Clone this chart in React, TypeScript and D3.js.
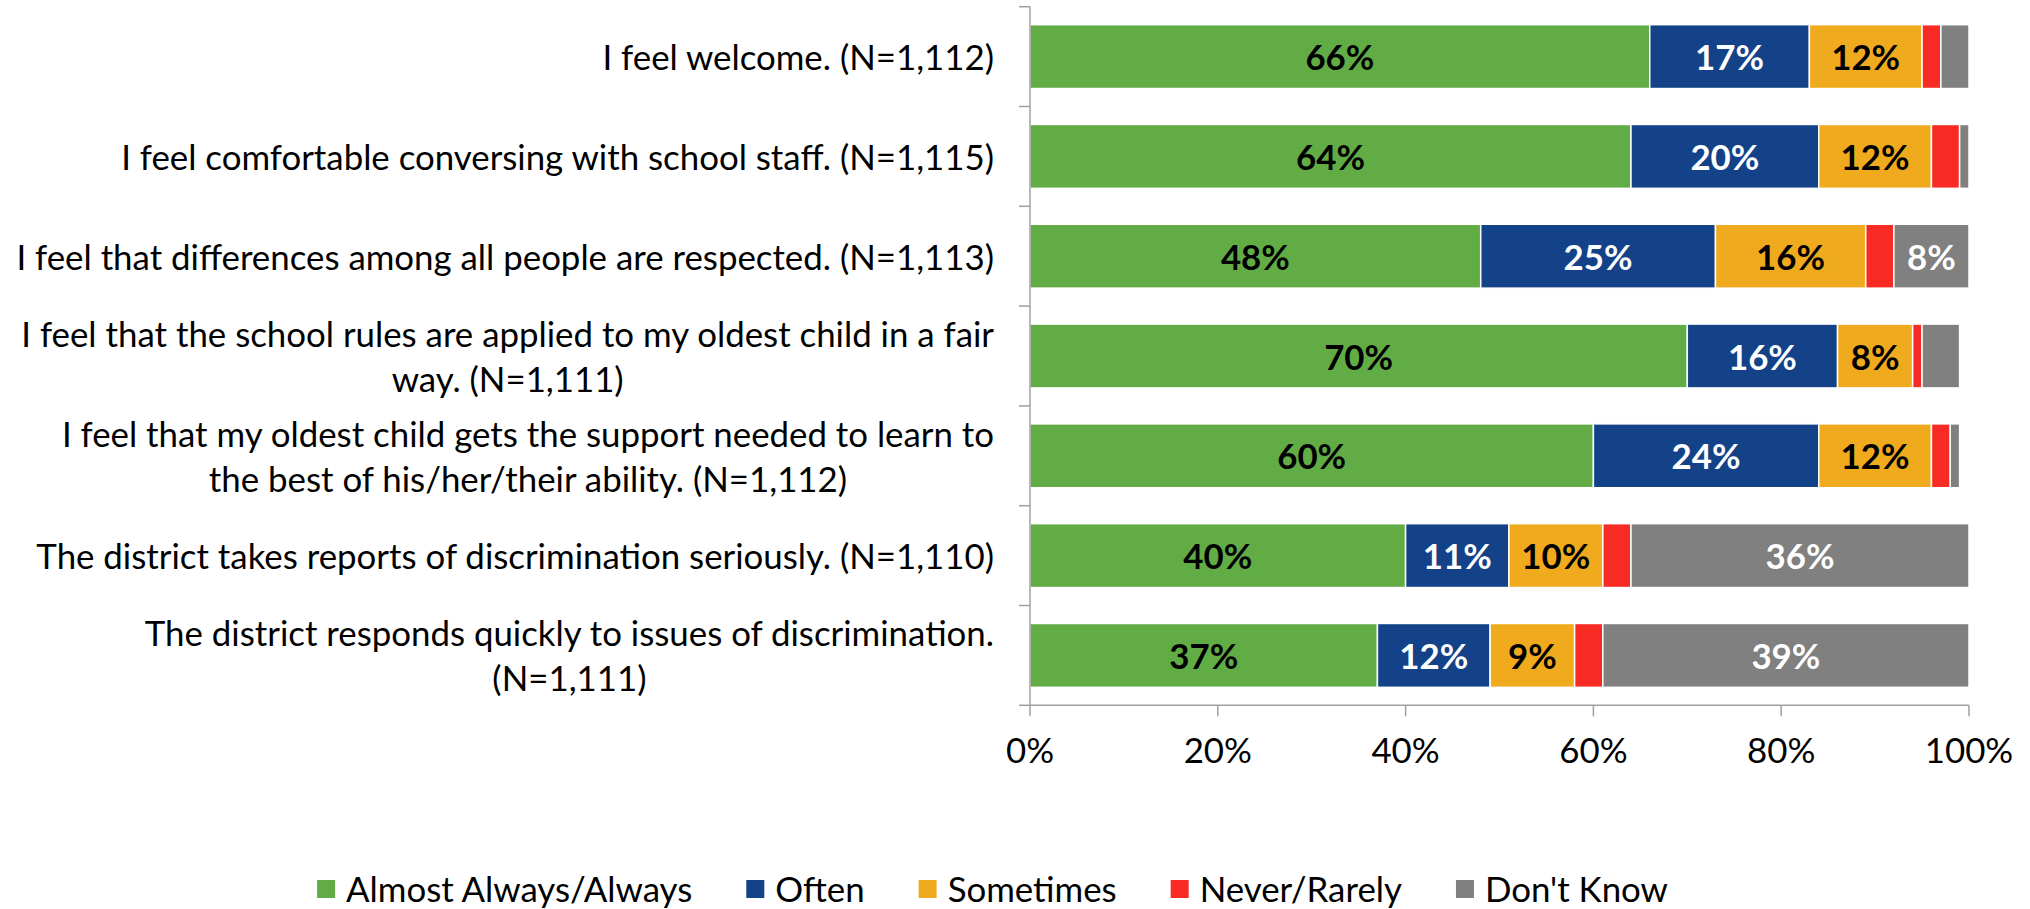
import React, { useEffect, useRef } from "react";
import * as d3 from "d3";

const categoryLines: string[][] = [
  ["I feel welcome. (N=1,112)"],
  ["I feel comfortable conversing with school staff. (N=1,115)"],
  ["I feel that differences among all people are respected. (N=1,113)"],
  ["I feel that the school rules are applied to my oldest child in a fair", "way. (N=1,111)"],
  ["I feel that my oldest child gets the support needed to learn to", "the best of his/her/their ability. (N=1,112)"],
  ["The district takes reports of discrimination seriously. (N=1,110)"],
  ["The district responds quickly to issues of discrimination.", "(N=1,111)"],
];

const seriesNames = ["Almost Always/Always", "Often", "Sometimes", "Never/Rarely", "Don't Know"];
const almostAlways = [66, 64, 48, 70, 60, 40, 37];
const often = [17, 20, 25, 16, 24, 11, 12];
const sometimes = [12, 12, 16, 8, 12, 10, 9];
const neverRarely = [2, 3, 3, 1, 2, 3, 3];
const dontKnow = [3, 1, 8, 4, 1, 36, 39];
const seriesColors = ["#62AC46", "#134289", "#F0AA1E", "#F72B23", "#808080"];
const labelColors = ["#000000", "#ffffff", "#000000", "#000000", "#ffffff"];
const xTicks = [0, 20, 40, 60, 80, 100];

const W = 2030;
const H = 909;

export default function App() {
  const ref = useRef<SVGSVGElement | null>(null);

  useEffect(() => {
    document.body.style.margin = "0";
    const svg = d3.select(ref.current);
    svg.selectAll("*").remove();
    const font = "Lato, 'Open Sans', sans-serif";

    // fit font so the longest category label matches the reference width
    const probe = svg.append("text").attr("font-family", font).attr("font-size", 37)
      .text(categoryLines[2][0]);
    const pw = (probe.node() as SVGTextElement).getComputedTextLength();
    probe.remove();
    const fs = Math.max(30, Math.min(40, (37 * 978) / pw));

    const x = d3.scaleLinear().domain([0, 100]).range([1030, 1969]);
    const idx = categoryLines.map((_, i) => String(i));
    const y = d3.scaleBand<string>().domain(idx).range([6.7, 705.3]).paddingInner(0.36).paddingOuter(0.18);
    const step = y.step();

    const rows = idx.map((k, i) => ({
      k,
      s0: almostAlways[i],
      s1: often[i],
      s2: sometimes[i],
      s3: neverRarely[i],
      s4: dontKnow[i],
    }));
    const keys = ["s0", "s1", "s2", "s3", "s4"];
    const stacked = d3.stack<any>().keys(keys)(rows);

    const gBars = svg.append("g");
    stacked.forEach((layer, si) => {
      const g = gBars.append("g").attr("fill", seriesColors[si]);
      g.selectAll("rect").data(layer).join("rect")
        .attr("x", (d: any) => x(d[0]))
        .attr("y", (d: any) => y(d.data.k)!)
        .attr("width", (d: any) => x(d[1]) - x(d[0]))
        .attr("height", y.bandwidth())
        .attr("stroke", "#ffffff")
        .attr("stroke-width", 1.5);
    });
    stacked.forEach((layer, si) => {
      const g = gBars.append("g");
      g.selectAll("text").data(layer.filter((d: any) => d[1] - d[0] >= 5)).join("text")
        .attr("x", (d: any) => (x(d[0]) + x(d[1])) / 2)
        .attr("y", (d: any) => y(d.data.k)! + y.bandwidth() / 2)
        .attr("text-anchor", "middle")
        .attr("dominant-baseline", "central")
        .attr("font-family", font)
        .attr("font-weight", "bold")
        .attr("font-size", fs)
        .attr("fill", labelColors[si])
        .text((d: any) => `${d[1] - d[0]}%`);
    });

    // axes
    const axisColor = "#A0A0A0";
    const y0 = 6.7, y1 = 705.3;
    svg.append("line").attr("x1", 1030).attr("x2", 1030).attr("y1", y0).attr("y2", y1)
      .attr("stroke", axisColor).attr("stroke-width", 1.5);
    svg.append("line").attr("x1", 1030).attr("x2", x(100)).attr("y1", y1).attr("y2", y1)
      .attr("stroke", axisColor).attr("stroke-width", 1.5);
    for (let i = 0; i <= categoryLines.length; i++) {
      const yy = y0 + i * step;
      svg.append("line").attr("x1", 1019).attr("x2", 1030).attr("y1", yy).attr("y2", yy)
        .attr("stroke", axisColor).attr("stroke-width", 1.5);
    }
    xTicks.forEach((t) => {
      svg.append("line").attr("x1", x(t)).attr("x2", x(t)).attr("y1", y1).attr("y2", y1 + 11)
        .attr("stroke", axisColor).attr("stroke-width", 1.5);
      svg.append("text").attr("x", x(t)).attr("y", 749)
        .attr("text-anchor", "middle").attr("dominant-baseline", "central")
        .attr("font-family", font).attr("font-size", fs).attr("fill", "#000")
        .text(`${t}%`);
    });

    // category labels
    const lineH = 45;
    categoryLines.forEach((lines, i) => {
      const cy = y(String(i))! + y.bandwidth() / 2;
      const g = svg.append("g");
      const texts = lines.map((ln, j) =>
        g.append("text").attr("font-family", font).attr("font-size", fs).attr("fill", "#000")
          .attr("text-anchor", "middle").attr("dominant-baseline", "central")
          .attr("y", cy + (j - (lines.length - 1) / 2) * lineH).text(ln)
      );
      const widths = texts.map((t) => (t.node() as SVGTextElement).getComputedTextLength());
      const bw = Math.max(...widths);
      texts.forEach((t) => t.attr("x", 994 - bw / 2));
    });

    // legend
    const lg = svg.append("g");
    let cx = 0;
    const items: { sx: number; tx: number }[] = [];
    const legendTexts = seriesNames.map((name) =>
      lg.append("text").attr("font-family", font).attr("font-size", fs).attr("fill", "#000")
        .attr("dominant-baseline", "central").attr("y", 888).text(name)
    );
    legendTexts.forEach((t, i) => {
      const w = (t.node() as SVGTextElement).getComputedTextLength();
      items.push({ sx: cx, tx: cx + 29 });
      cx += 29 + w + (i < seriesNames.length - 1 ? 54 : 0);
    });
    const start = 992.5 - cx / 2;
    legendTexts.forEach((t, i) => {
      t.attr("x", start + items[i].tx);
      lg.append("rect").attr("x", start + items[i].sx).attr("y", 880).attr("width", 18).attr("height", 18)
        .attr("fill", seriesColors[i]);
    });
  }, []);

  return <svg ref={ref} width={W} height={H} style={{ display: "block", background: "#fff" }} />;
}
